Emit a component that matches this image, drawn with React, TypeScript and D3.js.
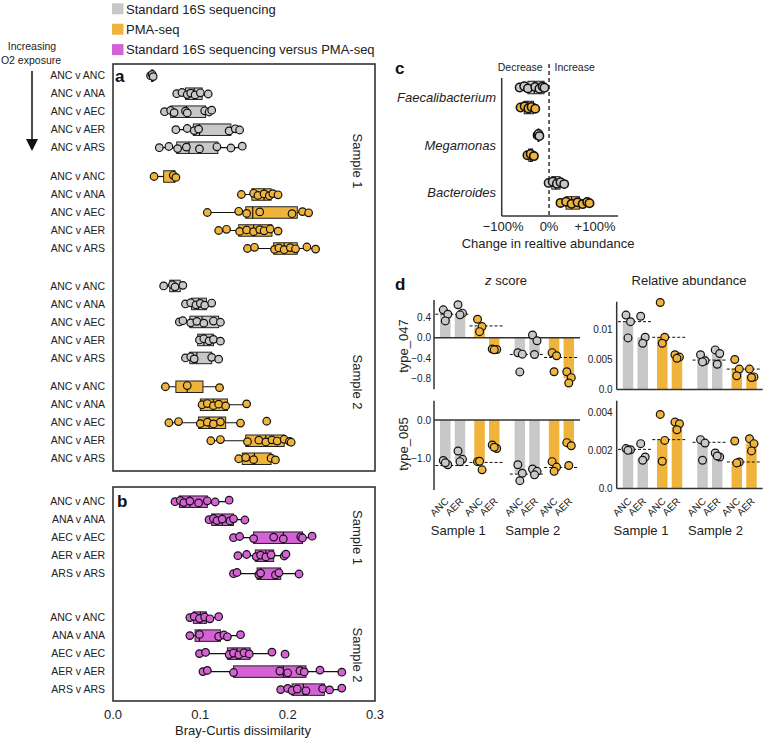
import React from "react";
import * as d3 from "d3";

const GREY = "#c8c8c8";
const ORANGE = "#f0b43c";
const MAGENTA = "#d462d4";
const DARK = "#333333";
const FONT = "'Liberation Sans', Arial, Helvetica, sans-serif";

// ---------- Legend ----------
const LEGEND_LABELS = ["Standard 16S sequencing", "PMA-seq", "Standard 16S sequencing versus PMA-seq"];
const LEGEND_COLORS = [GREY, ORANGE, MAGENTA];

// ---------- Panel a / b ----------
const A_ROWS = ["ANC v ANC", "ANC v ANA", "ANC v AEC", "ANC v AER", "ANC v ARS"];
const B_ROWS = ["ANC v ANC", "ANA v ANA", "AEC v AEC", "AER v AER", "ARS v ARS"];
const AB_TICKS = [0, 0.1, 0.2, 0.3];
const AB_TICK_LABELS = ["0.0", "0.1", "0.2", "0.3"];
const SAMPLES = ["Sample 1", "Sample 2"];

// box stats: [lower whisker, q1, median, q3, upper whisker]
const A_S1_STD_BOX = [
  [0.043, 0.044, 0.045, 0.046, 0.047],
  [0.073, 0.083, 0.093, 0.102, 0.109],
  [0.059, 0.066, 0.084, 0.106, 0.113],
  [0.072, 0.092, 0.099, 0.135, 0.145],
  [0.053, 0.073, 0.087, 0.120, 0.148],
];
const A_S1_STD_PTS = [
  [0.043, 0.045, 0.046],
  [0.073, 0.079, 0.085, 0.089, 0.094, 0.100, 0.109],
  [0.059, 0.066, 0.070, 0.083, 0.085, 0.105, 0.110, 0.113],
  [0.072, 0.085, 0.093, 0.098, 0.133, 0.140, 0.145],
  [0.053, 0.064, 0.074, 0.084, 0.099, 0.119, 0.135, 0.148],
];
const A_S1_PMA_BOX = [
  [0.047, 0.058, 0.070, 0.071, 0.072],
  [0.147, 0.159, 0.173, 0.181, 0.190],
  [0.108, 0.152, 0.160, 0.211, 0.224],
  [0.121, 0.144, 0.161, 0.182, 0.189],
  [0.154, 0.184, 0.196, 0.211, 0.232],
];
const A_S1_PMA_PTS = [
  [0.047, 0.069, 0.072],
  [0.147, 0.161, 0.166, 0.173, 0.179, 0.183, 0.189],
  [0.108, 0.144, 0.153, 0.168, 0.205, 0.217, 0.224],
  [0.121, 0.130, 0.145, 0.153, 0.161, 0.168, 0.173, 0.180, 0.189],
  [0.154, 0.162, 0.185, 0.190, 0.196, 0.203, 0.209, 0.222, 0.232],
];
const A_S2_STD_BOX = [
  [0.058, 0.065, 0.069, 0.077, 0.080],
  [0.083, 0.090, 0.098, 0.107, 0.113],
  [0.076, 0.088, 0.102, 0.121, 0.123],
  [0.097, 0.097, 0.104, 0.115, 0.123],
  [0.083, 0.088, 0.096, 0.113, 0.121],
];
const A_S2_STD_PTS = [
  [0.058, 0.068, 0.071, 0.080],
  [0.083, 0.089, 0.095, 0.100, 0.105, 0.113],
  [0.076, 0.080, 0.089, 0.096, 0.104, 0.115, 0.123],
  [0.099, 0.104, 0.110, 0.115, 0.123],
  [0.083, 0.089, 0.093, 0.113, 0.121],
];
const A_S2_PMA_BOX = [
  [0.060, 0.072, 0.085, 0.103, 0.122],
  [0.100, 0.100, 0.115, 0.131, 0.153],
  [0.064, 0.098, 0.110, 0.129, 0.146],
  [0.112, 0.152, 0.175, 0.196, 0.204],
  [0.144, 0.148, 0.162, 0.181, 0.186],
];
const A_S2_PMA_PTS = [
  [0.060, 0.085, 0.122],
  [0.102, 0.108, 0.115, 0.121, 0.129, 0.153],
  [0.064, 0.075, 0.100, 0.108, 0.115, 0.123, 0.146, 0.176],
  [0.112, 0.123, 0.154, 0.167, 0.175, 0.182, 0.188, 0.196, 0.202, 0.204],
  [0.144, 0.152, 0.161, 0.181, 0.186],
];
const B_S1_BOX = [
  [0.071, 0.076, 0.088, 0.108, 0.133],
  [0.110, 0.113, 0.125, 0.138, 0.151],
  [0.138, 0.161, 0.195, 0.217, 0.228],
  [0.143, 0.163, 0.175, 0.184, 0.198],
  [0.138, 0.165, 0.169, 0.192, 0.213],
];
const B_S1_PTS = [
  [0.071, 0.077, 0.081, 0.088, 0.098, 0.108, 0.117, 0.133],
  [0.110, 0.115, 0.119, 0.125, 0.134, 0.138, 0.151],
  [0.138, 0.145, 0.161, 0.184, 0.195, 0.215, 0.217, 0.228],
  [0.143, 0.153, 0.164, 0.169, 0.175, 0.181, 0.196, 0.198],
  [0.138, 0.142, 0.167, 0.169, 0.186, 0.190, 0.213],
];
const B_S2_BOX = [
  [0.088, 0.092, 0.100, 0.107, 0.121],
  [0.088, 0.094, 0.099, 0.123, 0.146],
  [0.099, 0.131, 0.142, 0.157, 0.182],
  [0.103, 0.138, 0.195, 0.221, 0.262],
  [0.192, 0.205, 0.218, 0.242, 0.262],
];
const B_S2_PTS = [
  [0.088, 0.093, 0.099, 0.105, 0.111, 0.121],
  [0.088, 0.099, 0.121, 0.127, 0.131, 0.146],
  [0.099, 0.106, 0.133, 0.138, 0.144, 0.150, 0.156, 0.182, 0.197],
  [0.103, 0.108, 0.138, 0.191, 0.200, 0.214, 0.219, 0.237, 0.262],
  [0.192, 0.200, 0.205, 0.211, 0.221, 0.240, 0.248, 0.262],
];

// ---------- Panel c ----------
const C_CATS = ["Faecalibacterium", "Megamonas", "Bacteroides"];
const C_TICKS = [-100, 0, 100];
const C_TICK_LABELS = ["\u2212100%", "0%", "+100%"];
const C_STD_BOX = [
  [-64, -46, -32, -11, -10],
  [-25, -24, -23, -22, -21],
  [-1, 6, 14, 24, 33],
];
const C_STD_PTS = [
  [-64, -54, -46, -30, -21, -14, -10],
  [-25, -23, -21],
  [-1, 8, 17, 25, 33],
];
const C_PMA_BOX = [
  [-62, -54, -46, -34, -30],
  [-47, -44, -40, -36, -33],
  [25, 37, 49, 66, 88],
];
const C_PMA_PTS = [
  [-62, -53, -45, -38, -30],
  [-47, -40, -33],
  [25, 37, 49, 62, 73, 83, 88],
];

// ---------- Panel d ----------
const D_CONDS = ["ANC", "AER", "ANC", "AER", "ANC", "AER", "ANC", "AER"];
const D_METHOD = [0, 0, 1, 1, 0, 0, 1, 1];
const D_TYPES = ["type_047", "type_085"];

const Z047_BARS = [0.45, 0.45, 0.2, -0.23, -0.31, -0.32, -0.37, -0.79];
const Z047_PTS = [
  [0.54, 0.455, 0.325], [0.637, 0.475, 0.442], [0.358, 0.215, 0.117], [-0.22, -0.228, -0.235],
  [-0.293, -0.319, -0.663], [0.052, -0.059, -0.325], [-0.29, -0.35, -0.66], [-0.66, -0.774, -0.878],
];
const Z047_MEANS = [0.455, 0.228, -0.325, -0.384];
const Z047_TICKS = [0.4, 0, -0.4, -0.8];

const Z085_BARS = [-1.11, -1.07, -1.07, -0.73, -1.37, -1.37, -1.15, -0.64];
const Z085_PTS = [
  [-1.04, -1.15, -1.1], [-0.795, -1.01, -1.07], [-1.07, -1.28, -1.06], [-0.64, -0.73, -0.7],
  [-1.15, -1.37, -1.56], [-1.26, -1.32, -1.41], [-1.07, -1.21, -1.32], [-0.58, -0.66, -1.17],
];
const Z085_MEANS = [-1.17, -1.09, -1.39, -1.22];
const Z085_TICKS = [0, -1];

const RA047_BARS = [0.0113, 0.0087, 0.0087, 0.0055, 0.0057, 0.006, 0.0035, 0.0024];
const RA047_PTS = [
  [0.0124, 0.0113, 0.0086], [0.0122, 0.0087, 0.0077], [0.0145, 0.0087, 0.0077], [0.0058, 0.0054, 0.0052],
  [0.0058, 0.0048, 0.0046], [0.0066, 0.006, 0.0042], [0.005, 0.0034, 0.0023], [0.0034, 0.0021, 0.002],
];
const RA047_MEANS = [0.0113, 0.0087, 0.0049, 0.0034];
const RA047_TICKS = [0, 0.005, 0.01];
const RA047_TICK_LABELS = ["0.0", "0.005", "0.01"];

const RA085_BARS = [0.00205, 0.0016, 0.00256, 0.00322, 0.00256, 0.00186, 0.00139, 0.0024];
const RA085_PTS = [
  [0.00209, 0.00203, 0.002], [0.00235, 0.00165, 0.00148], [0.00388, 0.00252, 0.00143], [0.00348, 0.00339, 0.00308],
  [0.00256, 0.00238, 0.00148], [0.00186, 0.00165, 0.0017], [0.00249, 0.00139, 0.00134], [0.00261, 0.00235, 0.00197],
];
const RA085_MEANS = [0.00205, 0.00256, 0.00242, 0.00139];
const RA085_TICKS = [0, 0.002, 0.004];
const RA085_TICK_LABELS = ["0.0", "0.002", "0.004"];

const JIT_Y = [0, -2, 1.5, -1, 2, -1.5, 0.5, -2.5, 1, 2.5];
const JIT_X = [-2, 2.5, 0];

const zfmt = (v: number) => (v < 0 ? "\u2212" : "") + Math.abs(v).toFixed(1);

function BoxRow({ x, y, box, pts, color, h, r, sw }: any) {
  const [lo, q1, med, q3, hi] = box;
  return (
    <g>
      <line x1={x(lo)} x2={x(hi)} y1={y} y2={y} stroke="#111" strokeWidth={1.2} />
      <rect x={x(q1)} y={y - h / 2} width={Math.max(1, x(q3) - x(q1))} height={h} fill={color} stroke="#222" strokeWidth={1} />
      <line x1={x(med)} x2={x(med)} y1={y - h / 2} y2={y + h / 2} stroke="#111" strokeWidth={1.2} />
      {pts.map((v: number, i: number) => (
        <circle key={i} cx={x(v)} cy={y + JIT_Y[i % JIT_Y.length] * 0.6} r={r} fill={color} stroke="#111" strokeWidth={sw} />
      ))}
    </g>
  );
}

function DPanel({ x0, y, bars, pts, means, ticks, tickLabels, zeroLine, bottomAxis, tickGap }: any) {
  const pos = (i: number) => (i % 2) + 2.33 * Math.floor(i / 2) + 0.41 * Math.floor(i / 4);
  const bx = d3.scaleLinear().domain([0, 1]).range([x0 + 11.3, x0 + 26]);
  const bw = 10.5;
  const [ylo, yhi] = y.range();
  const width = 146;
  return (
    <g>
      {bars.map((v: number, i: number) => (
        <rect key={i} x={bx(pos(i)) - bw / 2} y={Math.min(y(0), y(v))} width={bw} height={Math.abs(y(v) - y(0))}
          fill={D_METHOD[i] ? ORANGE : GREY} />
      ))}
      {means.map((m: number, p: number) => (
        <line key={p} x1={bx(pos(2 * p)) - 10} x2={bx(pos(2 * p + 1)) + 10} y1={y(m)} y2={y(m)}
          stroke="#111" strokeWidth={1} strokeDasharray="3,2" />
      ))}
      {zeroLine && <line x1={x0} x2={x0 + width} y1={y(0)} y2={y(0)} stroke={DARK} strokeWidth={1.5} />}
      {bottomAxis && <line x1={x0} x2={x0 + width} y1={y(0)} y2={y(0)} stroke={DARK} strokeWidth={1.5} />}
      <line x1={x0} x2={x0} y1={ylo} y2={yhi} stroke={DARK} strokeWidth={1.5} />
      {ticks.map((t: number, i: number) => (
        <text key={i} x={x0 - tickGap} y={y(t) + 3.5} fontSize={10} textAnchor="end" fill="#222">{tickLabels[i]}</text>
      ))}
      {pts.map((arr: number[], i: number) =>
        arr.map((v, j) => (
          <circle key={i + "-" + j} cx={bx(pos(i)) + JIT_X[j % 3]} cy={y(v)} r={3.9}
            fill={D_METHOD[i] ? ORANGE : GREY} stroke="#111" strokeWidth={1.2} />
        ))
      )}
    </g>
  );
}

function DXLabels({ x0 }: any) {
  const pos = (i: number) => (i % 2) + 2.33 * Math.floor(i / 2) + 0.41 * Math.floor(i / 4);
  const bx = d3.scaleLinear().domain([0, 1]).range([x0 + 11.3, x0 + 26]);
  return (
    <g>
      {D_CONDS.map((c, i) => (
        <text key={i} transform={`translate(${bx(pos(i)) + 4},${502}) rotate(-45)`} fontSize={10} textAnchor="end" fill="#222">{c}</text>
      ))}
      {SAMPLES.map((s, k) => (
        <text key={s} x={bx(pos(4 * k)) - 14.5} y={535} fontSize={13} fill="#222">{s}</text>
      ))}
    </g>
  );
}

export default function App() {
  const xAB = d3.scaleLinear().domain([0, 0.3]).range([113, 375]);
  const slotA = d3.scaleLinear().domain([0, 1]).range([75.7, 93.7]);
  const slotB = d3.scaleLinear().domain([0, 1]).range([501.7, 519.7]);

  const aGroups = [
    { box: A_S1_STD_BOX, pts: A_S1_STD_PTS, color: GREY, m: 0, s: 0 },
    { box: A_S1_PMA_BOX, pts: A_S1_PMA_PTS, color: ORANGE, m: 1, s: 0 },
    { box: A_S2_STD_BOX, pts: A_S2_STD_PTS, color: GREY, m: 0, s: 1 },
    { box: A_S2_PMA_BOX, pts: A_S2_PMA_PTS, color: ORANGE, m: 1, s: 1 },
  ];
  const bGroups = [
    { box: B_S1_BOX, pts: B_S1_PTS, s: 0 },
    { box: B_S2_BOX, pts: B_S2_PTS, s: 1 },
  ];

  // panel c
  const xC = d3.scaleLinear().domain([-103, 150]).range([501.7, 618]);
  const yC = d3.scaleLinear().domain([0, 1]).range([97.5, 145.2]);

  // panel d
  const yZ047 = d3.scaleLinear().domain([-1.0, 0.73]).range([389.3, 300]);
  const yZ085 = d3.scaleLinear().domain([-1.8, 0.5]).range([490, 400.7]);
  const yRA047 = d3.scaleLinear().domain([0, 0.01463]).range([389.5, 301.7]);
  const yRA085 = d3.scaleLinear().domain([0, 0.0046]).range([488.5, 400.7]);

  return (
    <svg width={765} height={740} viewBox="0 0 765 740"
      style={{ position: "absolute", left: 0, top: 0, display: "block", background: "#fff" }}
      fontFamily={FONT}>
      <rect x={0} y={0} width={765} height={740} fill="#fff" />

      {/* Legend */}
      {LEGEND_LABELS.map((l, i) => (
        <g key={l}>
          <rect x={112} y={3.3 + i * 20.4} width={11.5} height={11} fill={LEGEND_COLORS[i]} />
          <text x={126} y={13.5 + i * 20.4} fontSize={13} fill="#222">{l}</text>
        </g>
      ))}

      {/* O2 arrow */}
      <text x={32} y={50} fontSize={10.5} textAnchor="middle" fill="#222">Increasing</text>
      <text x={31} y={64} fontSize={10.5} textAnchor="middle" fill="#222">O2 exposure</text>
      <line x1={32} x2={32} y1={71} y2={140} stroke="#111" strokeWidth={1.5} />
      <path d="M26,139 L38,139 L32,151 Z" fill="#111" />

      {/* Panel a */}
      <rect x={113} y={64} width={262} height={407} fill="none" stroke={DARK} strokeWidth={1.6} />
      <text x={115} y={82} fontSize={17} fontWeight="bold" fill="#111">a</text>
      {aGroups.map((g, gi) => {
        const base = 5 * gi + 0.6 * g.m + 1.68 * g.s;
        return (
          <g key={gi}>
            {A_ROWS.map((lab, r) => (
              <g key={r}>
                <text x={105} y={slotA(base + r) + 3.7} fontSize={10.5} textAnchor="end" fill="#222">{lab}</text>
                <BoxRow x={xAB} y={slotA(base + r)} box={g.box[r]} pts={g.pts[r]} color={g.color} h={11.5} r={3.8} sw={1.2} />
              </g>
            ))}
          </g>
        );
      })}
      <text transform={`translate(${353},${161}) rotate(90)`} fontSize={13} textAnchor="middle" fill="#222">{SAMPLES[0]}</text>
      <text transform={`translate(${353},${382}) rotate(90)`} fontSize={13} textAnchor="middle" fill="#222">{SAMPLES[1]}</text>

      {/* Panel b */}
      <rect x={113} y={487} width={262} height={214} fill="none" stroke={DARK} strokeWidth={1.6} />
      <text x={117} y={507} fontSize={17} fontWeight="bold" fill="#111">b</text>
      {bGroups.map((g, gi) => {
        const base = 6.44 * g.s;
        return (
          <g key={gi}>
            {B_ROWS.map((lab, r) => (
              <g key={r}>
                <text x={105} y={slotB(base + r) + 3.7} fontSize={10.5} textAnchor="end" fill="#222">{lab}</text>
                <BoxRow x={xAB} y={slotB(base + r)} box={g.box[r]} pts={g.pts[r]} color={MAGENTA} h={11.5} r={3.8} sw={1.2} />
              </g>
            ))}
          </g>
        );
      })}
      <text transform={`translate(${353},${537.5}) rotate(90)`} fontSize={13} textAnchor="middle" fill="#222">{SAMPLES[0]}</text>
      <text transform={`translate(${353},${655}) rotate(90)`} fontSize={13} textAnchor="middle" fill="#222">{SAMPLES[1]}</text>
      {AB_TICKS.map((t, i) => (
        <text key={t} x={xAB(t)} y={719} fontSize={13} textAnchor="middle" fill="#222">{AB_TICK_LABELS[i]}</text>
      ))}
      <text x={243} y={735} fontSize={13} textAnchor="middle" fill="#222">Bray-Curtis dissimilarity</text>

      {/* Panel c */}
      <text x={395} y={74} fontSize={17} fontWeight="bold" fill="#111">c</text>
      <text x={542.7} y={71} fontSize={10.5} textAnchor="end" fill="#222">Decrease</text>
      <text x={554.5} y={71} fontSize={10.5} fill="#222">Increase</text>
      <line x1={xC(0)} x2={xC(0)} y1={64} y2={216} stroke={DARK} strokeWidth={1.5} strokeDasharray="4,3" />
      <line x1={501.7} x2={501.7} y1={78} y2={216} stroke={DARK} strokeWidth={1.5} />
      <line x1={501.7} x2={618} y1={216} y2={216} stroke={DARK} strokeWidth={1.5} />
      {C_CATS.map((c, i) => (
        <g key={c}>
          <text x={496} y={yC(i) + 4.5} fontSize={13} fontStyle="italic" textAnchor="end" fill="#222">{c}</text>
          <BoxRow x={xC} y={yC(i) - 10} box={C_STD_BOX[i]} pts={C_STD_PTS[i]} color={GREY} h={12.5} r={4.2} sw={1.5} />
          <BoxRow x={xC} y={yC(i) + 10} box={C_PMA_BOX[i]} pts={C_PMA_PTS[i]} color={ORANGE} h={12.5} r={4.2} sw={1.6} />
        </g>
      ))}
      {C_TICKS.map((t, i) => (
        <text key={t} x={xC(t)} y={231} fontSize={13} textAnchor="middle" fill="#222">{C_TICK_LABELS[i]}</text>
      ))}
      <text x={548} y={247.5} fontSize={13} textAnchor="middle" fill="#222">Change in realtive abundance</text>

      {/* Panel d */}
      <text x={395} y={290} fontSize={17} fontWeight="bold" fill="#111">d</text>
      <text x={506} y={285} fontSize={13} textAnchor="middle" fill="#222"><tspan fontStyle="italic">z</tspan> score</text>
      <text x={689} y={285} fontSize={13} textAnchor="middle" fill="#222">Relative abundance</text>
      <text transform={`translate(${407.5},${346}) rotate(-90)`} fontSize={13} textAnchor="middle" fill="#222">{D_TYPES[0]}</text>
      <text transform={`translate(${407.5},${444}) rotate(-90)`} fontSize={13} textAnchor="middle" fill="#222">{D_TYPES[1]}</text>

      <DPanel x0={434} y={yZ047} bars={Z047_BARS} pts={Z047_PTS} means={Z047_MEANS}
        ticks={Z047_TICKS} tickLabels={Z047_TICKS.map(zfmt)} zeroLine tickGap={3} />
      <DPanel x0={434} y={yZ085} bars={Z085_BARS} pts={Z085_PTS} means={Z085_MEANS}
        ticks={Z085_TICKS} tickLabels={Z085_TICKS.map(zfmt)} zeroLine tickGap={3} />
      <DPanel x0={616.7} y={yRA047} bars={RA047_BARS} pts={RA047_PTS} means={RA047_MEANS}
        ticks={RA047_TICKS} tickLabels={RA047_TICK_LABELS} bottomAxis tickGap={4} />
      <DPanel x0={616.7} y={yRA085} bars={RA085_BARS} pts={RA085_PTS} means={RA085_MEANS}
        ticks={RA085_TICKS} tickLabels={RA085_TICK_LABELS} bottomAxis tickGap={4} />
      <DXLabels x0={434} />
      <DXLabels x0={616.7} />
    </svg>
  );
}
